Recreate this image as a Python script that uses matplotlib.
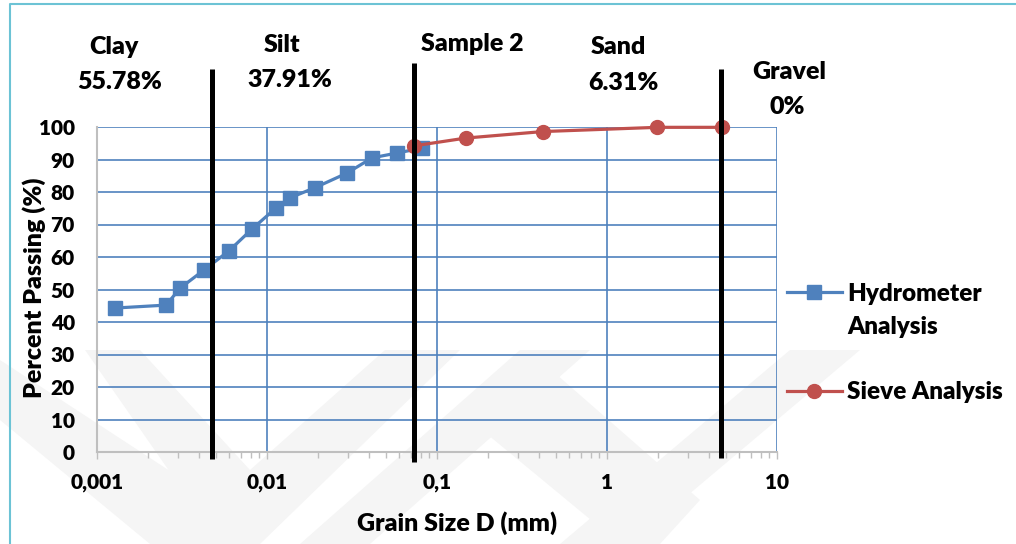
import matplotlib
matplotlib.use("Agg")
import matplotlib.pyplot as plt
from matplotlib.lines import Line2D
from matplotlib.patches import Polygon
from matplotlib.ticker import FixedLocator, LogLocator, NullFormatter

# --- data ---
hydro_d = [0.00128, 0.00255, 0.00308, 0.00426, 0.00598, 0.00816, 0.0113,
           0.01365, 0.0191, 0.0295, 0.0415, 0.0582, 0.0816]
hydro_p = [44.3, 45.2, 50.4, 56.0, 61.9, 68.6, 75.1, 78.2, 81.3, 85.8, 90.5, 92.0, 93.5]

sieve_d = [0.0733, 0.148, 0.42, 1.98, 4.75]
sieve_p = [94.2, 96.6, 98.6, 99.9, 99.9]

boundaries = [0.00476, 0.0733, 4.67]          # clay/silt, silt/sand, sand/gravel
x_ticks = [0.001, 0.01, 0.1, 1, 10]
x_tick_labels = ["0,001", "0,01", "0,1", "1", "10"]
y_ticks = list(range(0, 101, 10))

zones = [("Clay", "55.78%"), ("Silt", "37.91%"), ("Sample 2", ""),
         ("Sand", "6.31%"), ("Gravel", "0%")]

BLUE = "#4F81BD"
RED = "#C0504D"
W, H = 1016, 544
FONT = "Lato"
WT = 800
FS = 18

plt.rcParams["font.family"] = FONT
plt.rcParams["font.weight"] = WT

fig = plt.figure(figsize=(W / 100, H / 100), dpi=100)
fig.patch.set_facecolor("white")


def px(x, y):
    # pixel (from top-left) -> figure fraction
    return x / W, 1 - y / H


# faint watermark chevrons in the background
wm = [
    [(0, 420), (0, 360), (245, 520), (245, 544), (150, 544)],
    [(85, 350), (140, 350), (250, 470), (385, 350), (460, 350), (260, 544), (220, 544)],
    [(300, 544), (520, 350), (590, 350), (370, 544)],
    [(560, 544), (790, 350), (860, 350), (630, 544)],
    [(470, 420), (540, 360), (700, 500), (660, 544), (620, 544)],
]
for poly in wm:
    fig.add_artist(Polygon([px(*p) for p in poly], closed=True,
                           facecolor="#f5f5f5", edgecolor="none", zorder=-5))

# outer chart border (teal, top and left)
fig.add_artist(Line2D([px(10, 0)[0], px(10, 0)[0], 1.0],
                      [0.0, px(0, 4)[1], px(0, 4)[1]], color="#6CC3D5", lw=1.5))

ax = fig.add_axes([97 / W, 1 - 452 / H, 680 / W, 325 / H])
ax.patch.set_alpha(0)
ax.set_xscale("log")
ax.set_xlim(0.001, 10)
ax.set_ylim(0, 100)

ax.xaxis.set_major_locator(FixedLocator(x_ticks))
ax.set_xticklabels(x_tick_labels)
ax.xaxis.set_minor_locator(LogLocator(base=10, subs=range(2, 10)))
ax.xaxis.set_minor_formatter(NullFormatter())
ax.set_yticks(y_ticks)

ax.grid(True, which="major", color=BLUE, lw=1.2)
ax.set_axisbelow(True)
for s in ["top", "right"]:
    ax.spines[s].set_visible(False)
for s in ["left", "bottom"]:
    ax.spines[s].set_color("#BFBFBF")
    ax.spines[s].set_linewidth(1.5)
    ax.spines[s].set_zorder(1.5)

ax.tick_params(axis="x", which="major", length=5, width=1, color="#BFBFBF",
               labelsize=15, pad=10)
ax.tick_params(axis="x", which="minor", length=4, width=1, color="#BFBFBF")
ax.tick_params(axis="y", length=0, labelsize=15, pad=16)
for lab in ax.get_xticklabels() + ax.get_yticklabels():
    lab.set_fontweight(WT)
    lab.set_family(FONT)

# series
h_line, = ax.plot(hydro_d, hydro_p, color=BLUE, lw=2.3, marker="s", ms=10,
                  zorder=4, clip_on=False)
s_line, = ax.plot(sieve_d, sieve_p, color=RED, lw=2.3, marker="o", ms=10,
                  zorder=4, clip_on=False)

# boundaries between soil classes, sticking out above the plot
tr = ax.get_xaxis_transform()
tops = [1.18, 1.197, 1.178]
bots = [-0.022, -0.03, -0.018]
for xb, t, b in zip(boundaries, tops, bots):
    ax.plot([xb, xb], [b, t], transform=tr, color="black", lw=3.6,
            clip_on=False, zorder=6, solid_capstyle="butt")

# zone labels
label_pos = [((114, 47), (120, 82)), ((282, 45), (290, 80)), ((472, 44), None),
             ((618, 47), (623, 83)), ((789, 72), (787, 107))]
for (name, pct), (p1, p2) in zip(zones, label_pos):
    fig.text(*px(*p1), name, ha="center", va="center", fontsize=FS,
             family=FONT, weight=WT)
    if p2 is not None:
        fig.text(*px(*p2), pct, ha="center", va="center", fontsize=FS,
                 family=FONT, weight=WT)

fig.text(*px(34, 288), "Percent Passing (%)", rotation=90, ha="center", va="center",
         fontsize=FS, family=FONT, weight=WT)
fig.text(*px(457, 523), "Grain Size D (mm)", ha="center", va="center",
         fontsize=FS, family=FONT, weight=WT)

# legend
blank = Line2D([], [], color="none")
leg = ax.legend([Line2D([], [], color=BLUE, lw=2.3, marker="s", ms=10), blank, blank,
                 Line2D([], [], color=RED, lw=2.3, marker="o", ms=10)],
                ["Hydrometer", "Analysis", "", "Sieve Analysis"],
                loc="upper left", bbox_to_anchor=px(787, 283), bbox_transform=fig.transFigure,
                frameon=False, prop={"family": FONT, "weight": WT, "size": 17.5},
                handlelength=2.25, handletextpad=0.22,
                labelspacing=0.44, borderpad=0, borderaxespad=0)

fig.savefig("out.png", dpi=100)
